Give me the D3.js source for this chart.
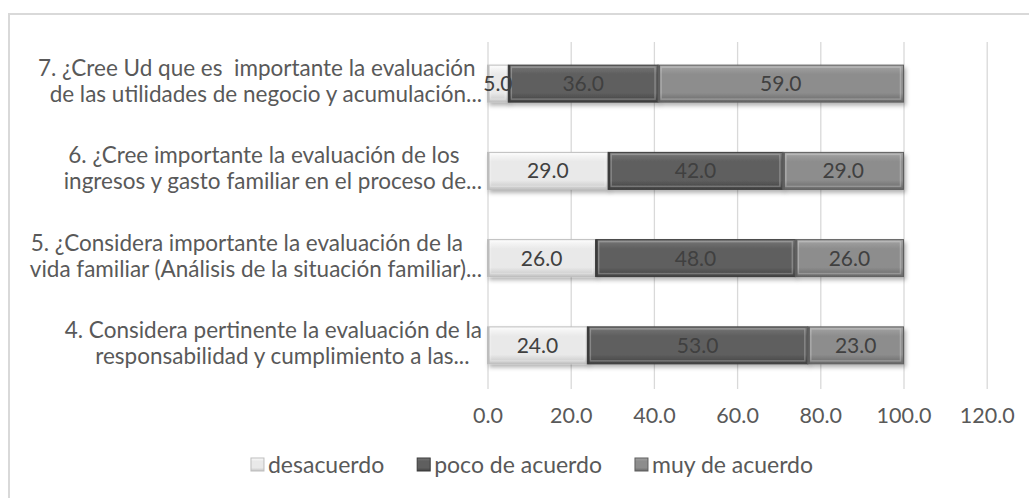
<!DOCTYPE html>
<html>
<head>
<meta charset="utf-8">
<script src="https://cdn.jsdelivr.net/npm/d3@7"></script>
<style>
  body { margin: 0; background: #fff; }
  svg { display: block; }
</style>
</head>
<body>
<div id="chart"></div>
<script>
const questions = ['7', '6', '5', '4']
const questionLines = [
  ['7. ¿Cree Ud que es  importante la evaluación', 'de las utilidades de negocio y acumulación...'],
  ['6. ¿Cree importante la evaluación de los', 'ingresos y gasto familiar en el proceso de...'],
  ['5. ¿Considera importante la evaluación de la', 'vida familiar (Análisis de la situación familiar)...'],
  ['4. Considera pertinente la evaluación de la', 'responsabilidad y cumplimiento a las...']
]
const seriesNames = ['desacuerdo', 'poco de acuerdo', 'muy de acuerdo']
const desacuerdo = [5, 29, 26, 24]
const pocoDeAcuerdo = [36, 42, 48, 53]
const muyDeAcuerdo = [59, 29, 26, 23]
const xTicks = [0, 20, 40, 60, 80, 100, 120]

const width = 1029
const height = 498
const font = 'Lato, "Open Sans", sans-serif'

// gradient stops per series: top, middle, bottom, edge
const shades = {
  'desacuerdo': ['#fbfbfb', '#e9e9e9', '#c4c4c4', '#bdbdbd'],
  'poco de acuerdo': ['#777777', '#5f5f5f', '#414141', '#3a3a3a'],
  'muy de acuerdo': ['#a4a4a4', '#8d8d8d', '#676767', '#5e5e5e']
}

const rows = questions.map((q, i) => ({
  q,
  'desacuerdo': desacuerdo[i],
  'poco de acuerdo': pocoDeAcuerdo[i],
  'muy de acuerdo': muyDeAcuerdo[i]
}))

const stacked = d3.stack().keys(seriesNames)(rows)

const svg = d3.select('#chart')
  .append('svg')
  .attr('width', width)
  .attr('height', height)

const defs = svg.append('defs')

seriesNames.forEach((name, i) => {
  const s = shades[name]
  const g = defs.append('linearGradient')
    .attr('id', `grad-${i}`)
    .attr('x1', 0).attr('y1', 0).attr('x2', 0).attr('y2', 1)
  g.append('stop').attr('offset', '0%').attr('stop-color', s[0])
  g.append('stop').attr('offset', '25%').attr('stop-color', s[1])
  g.append('stop').attr('offset', '75%').attr('stop-color', s[1])
  g.append('stop').attr('offset', '100%').attr('stop-color', s[2])
})

const shadow = defs.append('filter').attr('id', 'shadow')
  .attr('x', '-5%').attr('y', '-30%').attr('width', '110%').attr('height', '170%')
shadow.append('feDropShadow')
  .attr('dx', 2).attr('dy', 3).attr('stdDeviation', 2)
  .attr('flood-color', '#000').attr('flood-opacity', 0.3)

// chart border (runs off the right and bottom edges like the source)
svg.append('rect')
  .attr('x', 9).attr('y', 14)
  .attr('width', 1040).attr('height', 500)
  .attr('fill', 'none')
  .attr('stroke', '#d9d9d9')
  .attr('stroke-width', 2)

const plotTop = 42
const plotBottom = 389

const x = d3.scaleLinear().domain([0, 120]).range([487.5, 986.7])
const y = d3.scaleBand()
  .domain(questions)
  .range([40, 389])
  .paddingInner(0.576)
  .paddingOuter(0.288)

// Gridlines + tick labels
const xAxis = svg.append('g')
  .attr('transform', `translate(0,${plotBottom})`)
  .call(d3.axisBottom(x)
    .tickValues(xTicks)
    .tickSize(-(plotBottom - plotTop))
    .tickPadding(19)
    .tickFormat(d3.format('.1f')))

xAxis.select('.domain').remove()
xAxis.selectAll('.tick line')
  .attr('stroke', '#d9d9d9')
  .attr('stroke-width', 1.3)
xAxis.selectAll('.tick text')
  .attr('fill', '#595959')
  .attr('font-family', font)
  .attr('font-size', '21.5px')

// Bars
const layers = svg.append('g')
  .selectAll('g')
  .data(stacked)
  .join('g')
  .attr('filter', 'url(#shadow)')

layers.each(function(layer, i) {
  const s = shades[layer.key]
  const g = d3.select(this)
  const segs = g.selectAll('g')
    .data(layer)
    .join('g')

  segs.append('rect')
    .attr('x', d => x(d[0]))
    .attr('y', d => y(d.data.q))
    .attr('width', d => x(d[1]) - x(d[0]))
    .attr('height', y.bandwidth())
    .attr('fill', `url(#grad-${i})`)
    .attr('stroke', s[3])
    .attr('stroke-width', 1)

  // bevel highlight
  segs.append('rect')
    .attr('x', d => x(d[0]) + 3)
    .attr('y', d => y(d.data.q) + 2)
    .attr('width', d => Math.max(0, x(d[1]) - x(d[0]) - 6))
    .attr('height', y.bandwidth() - 5)
    .attr('fill', 'none')
    .attr('stroke', '#fff')
    .attr('stroke-opacity', 0.25)
    .attr('stroke-width', 1.5)

  // darker end caps
  segs.append('line')
    .attr('x1', d => x(d[0]) + 1)
    .attr('x2', d => x(d[0]) + 1)
    .attr('y1', d => y(d.data.q))
    .attr('y2', d => y(d.data.q) + y.bandwidth())
    .attr('stroke', s[3])
    .attr('stroke-width', 2)
})

// Data labels
svg.append('g')
  .selectAll('g')
  .data(stacked)
  .join('g')
  .selectAll('text')
  .data(d => d)
  .join('text')
  .attr('x', d => x((d[0] + d[1]) / 2))
  .attr('y', d => y(d.data.q) + y.bandwidth() / 2)
  .attr('dy', '0.36em')
  .attr('text-anchor', 'middle')
  .attr('fill', '#404040')
  .attr('font-family', font)
  .attr('font-size', '21px')
  .text(d => d3.format('.1f')(d[1] - d[0]))

// Category labels: two wrapped lines, centred on each other, block right-aligned to the axis
const labelRight = 482
const lineGap = 26
const catLabels = svg.append('g')
  .selectAll('g')
  .data(questions)
  .join('g')

catLabels.each(function(q, i) {
  const g = d3.select(this)
  const cy = y(q) + y.bandwidth() / 2
  const lines = questionLines[i]
  const texts = lines.map((line, j) => g.append('text')
    .attr('y', cy + (j - 0.5) * lineGap - 2.5)
    .attr('dy', '0.36em')
    .attr('text-anchor', 'middle')
    .attr('fill', '#595959')
    .attr('font-family', font)
    .attr('font-size', '22.5px')
    .style('white-space', 'pre')
    .text(line))
  const widths = texts.map(t => t.node().getComputedTextLength())
  const shifts = [-9, 0]
  const right = d3.max(widths.map((w, j) => w / 2 + shifts[j]))
  const cx = labelRight - right
  texts.forEach((t, j) => t.attr('x', cx + shifts[j]))
})

// Legend
const legendY = 465
const legend = svg.append('g')
const items = legend.selectAll('g')
  .data(seriesNames)
  .join('g')

items.append('rect')
  .attr('width', 13)
  .attr('height', 13)
  .attr('y', legendY - 7)
  .attr('fill', (d, i) => `url(#grad-${i})`)
  .attr('stroke', d => shades[d][3])
  .attr('stroke-width', 1)

items.append('text')
  .attr('x', 17)
  .attr('y', legendY)
  .attr('dy', '0.36em')
  .attr('fill', '#595959')
  .attr('font-family', font)
  .attr('font-size', '23px')
  .text(d => d)

const itemWidths = []
items.each(function() { itemWidths.push(this.getBBox().width) })
const itemGap = 33
const total = d3.sum(itemWidths) + itemGap * (itemWidths.length - 1)
let cursor = 532 - total / 2
items.attr('transform', (d, i) => {
  const t = `translate(${cursor},0)`
  cursor += itemWidths[i] + itemGap
  return t
})
</script>
</body>
</html>
